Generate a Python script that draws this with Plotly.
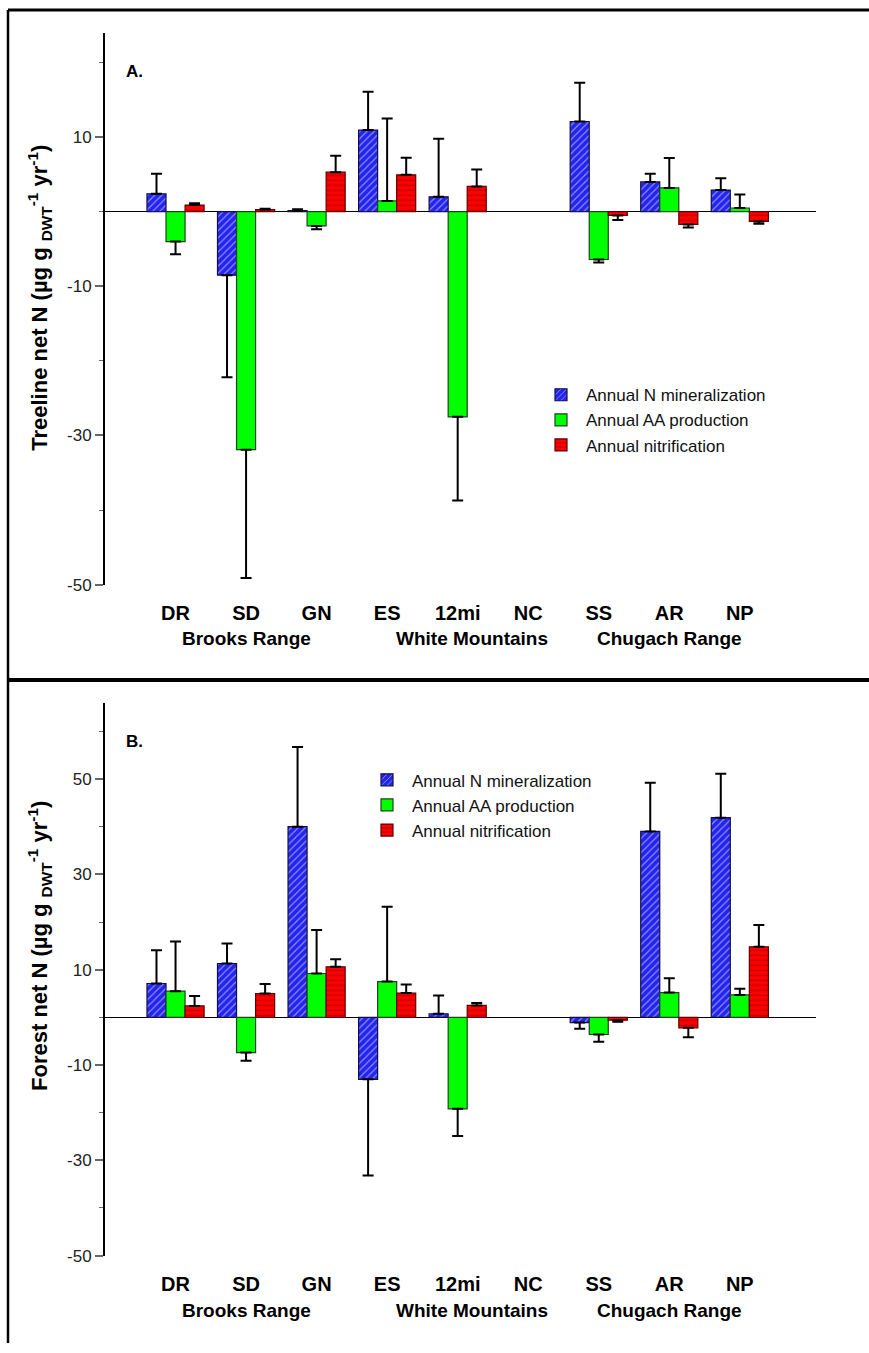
import plotly.graph_objects as go

W, H = 869, 1353

sites = ["DR", "SD", "GN", "ES", "12mi", "NC", "SS", "AR", "NP"]
regions = ["Brooks Range", "White Mountains", "Chugach Range"]
region_pos = [1, 4.2, 7]
series_names = ["Annual N mineralization", "Annual AA production", "Annual nitrification"]

# Panel A: Treeline (values and one-sided error magnitudes)
a_nmin = [2.4, -8.5, 0.15, 10.95, 2.0, None, 12.1, 4.0, 2.9]
a_nmin_err = [2.7, 13.7, 0.2, 5.15, 7.8, None, 5.2, 1.1, 1.6]
a_aa = [-4.0, -31.9, -1.9, 1.45, -27.5, None, -6.4, 3.2, 0.5]
a_aa_err = [1.7, 17.2, 0.45, 11.05, 11.2, None, 0.4, 4.0, 1.8]
a_nit = [0.9, 0.3, 5.3, 4.95, 3.4, None, -0.5, -1.7, -1.3]
a_nit_err = [0.25, 0.1, 2.2, 2.3, 2.25, None, 0.6, 0.4, 0.3]
a_ticks = [10, -10, -30, -50]
a_minor = [20, 0, -20, -40]

# Panel B: Forest
b_nmin = [7.1, 11.3, 40.0, -13.0, 0.75, None, -1.1, 39.0, 41.9]
b_nmin_err = [7.0, 4.2, 16.7, 20.2, 3.85, None, 1.3, 10.2, 9.2]
b_aa = [5.5, -7.4, 9.2, 7.5, -19.2, None, -3.6, 5.2, 4.7]
b_aa_err = [10.4, 1.7, 9.1, 15.7, 5.7, None, 1.5, 3.0, 1.3]
b_nit = [2.4, 5.0, 10.6, 5.1, 2.5, None, -0.6, -2.2, 14.8]
b_nit_err = [2.1, 2.0, 1.6, 1.8, 0.5, None, 0.3, 2.0, 4.6]
b_ticks = [50, 30, 10, -10, -30, -50]
b_minor = [60, 40, 20, 0, -20, -40]

FONT = "Arial, Liberation Sans, sans-serif"

styles = [
    dict(color="#2424f0", pattern=dict(shape="/", fgcolor="white", bgcolor="#2424f0", size=5, solidity=0.22),
         line=dict(color="#101040", width=1.2)),
    dict(color="#00ff00", line=dict(color="#204020", width=1.2)),
    dict(color="#ff0000", pattern=dict(shape="-", fgcolor="#800000", bgcolor="#ff0000", size=5, solidity=0.25),
         line=dict(color="#600000", width=1.2)),
]


def one_sided(vals, errs):
    up, down = [], []
    for v, e in zip(vals, errs):
        if v is None:
            up.append(0); down.append(0)
        elif v >= 0:
            up.append(e); down.append(0)
        else:
            up.append(0); down.append(e)
    return up, down


fig = go.Figure()

panels = [
    ("x", "y", "legend", [(a_nmin, a_nmin_err), (a_aa, a_aa_err), (a_nit, a_nit_err)]),
    ("x2", "y2", "legend2", [(b_nmin, b_nmin_err), (b_aa, b_aa_err), (b_nit, b_nit_err)]),
]
for xa, ya, lg, data in panels:
    for name, (vals, errs), st in zip(series_names, data, styles):
        up, down = one_sided(vals, errs)
        fig.add_trace(go.Bar(
            x=sites, y=vals, name=name, xaxis=xa, yaxis=ya, legend=lg,
            marker=st,
            error_y=dict(type="data", symmetric=False, array=up, arrayminus=down,
                         color="black", thickness=2, width=5.5),
        ))

xdom = [105 / W, 816 / W]
ydomA = [1 - 589 / H, 1 - 33 / H]
ydomB = [1 - 1265 / H, 1 - 708 / H]

xcommon = dict(domain=xdom, range=[-1, 9.08], type="category", showline=False, ticks="",
               tickmode="array", tickvals=sites, ticktext=[f"<b>{s}</b>" for s in sites],
               tickfont=dict(family=FONT, size=20, color="black"), showgrid=False,
               zeroline=False, ticklabelstandoff=14)


def yaxis(ticks, minor, rng, dom):
    return dict(domain=dom, range=rng, showline=True, linecolor="black", linewidth=2,
                ticks="outside", ticklen=8, tickwidth=1.5, tickcolor="#666",
                tickfont=dict(family=FONT, size=17, color="#222"),
                tickmode="array", tickvals=ticks, ticktext=[str(t) for t in ticks],
                showgrid=False, zeroline=True, zerolinecolor="black", zerolinewidth=1.2,
                minor=dict(ticks="outside", ticklen=4, tickwidth=1.2, tickcolor="#666", tickvals=minor))


leg_common = dict(xanchor="left", yanchor="top", font=dict(family=FONT, size=17, color="#111"),
                  bgcolor="rgba(0,0,0,0)", tracegroupgap=0, itemwidth=40)

fig.update_layout(
    width=W, height=H,
    margin=dict(l=0, r=0, t=0, b=0),
    paper_bgcolor="white", plot_bgcolor="white",
    barmode="group", bargap=0.19, bargroupgap=0,
    xaxis=dict(**xcommon, anchor="y"),
    yaxis=dict(**yaxis(a_ticks, a_minor, [-50, 24], ydomA), anchor="x"),
    xaxis2=dict(**xcommon, anchor="y2"),
    yaxis2=dict(**yaxis(b_ticks, b_minor, [-50, 66], ydomB), anchor="x2"),
    legend=dict(x=536 / W, y=1 - 380 / H, **leg_common),
    legend2=dict(x=362 / W, y=1 - 768 / H, **leg_common),
    font=dict(family=FONT),
)

ann = []
for xa, ypix in (("x", 643), ("x2", 1320)):
    for r, p in zip(regions, region_pos):
        ann.append(dict(x=p, y=1 - ypix / H, xref=xa, yref="paper", text=f"<b>{r}</b>",
                        xanchor="center", yanchor="middle",
                        showarrow=False, font=dict(family=FONT, size=19, color="black")))
for lbl, ypix in (("A.", 72), ("B.", 747)):
    ann.append(dict(x=124 / W, y=1 - ypix / H, xref="paper", yref="paper", text=f"<b>{lbl}</b>",
                    xanchor="left", yanchor="middle",
                    showarrow=False, font=dict(family=FONT, size=17, color="black")))
for title, ypix in (("Treeline net N", 300), ("Forest net N", 953)):
    ann.append(dict(x=40 / W, y=1 - ypix / H, xref="paper", yref="paper", textangle=-90,
                    xanchor="center", yanchor="middle",
                    text=f"<b>{title} (µg g <sub>DWT</sub><sup>-1</sup> yr<sup>-1</sup>)</b>",
                    showarrow=False, font=dict(family=FONT, size=22, color="black")))
fig.update_layout(annotations=ann)

shapes = [
    dict(type="line", xref="paper", yref="paper", x0=8 / W, x1=1, y0=1 - 10 / H, y1=1 - 10 / H,
         line=dict(color="black", width=3)),
    dict(type="line", xref="paper", yref="paper", x0=8 / W, x1=8 / W, y0=0, y1=1 - 10 / H,
         line=dict(color="black", width=2.5)),
    dict(type="line", xref="paper", yref="paper", x0=8 / W, x1=1, y0=1 - 685 / H, y1=1 - 685 / H,
         line=dict(color="black", width=4)),
]
fig.update_layout(shapes=shapes)

fig.write_html("out.html")
